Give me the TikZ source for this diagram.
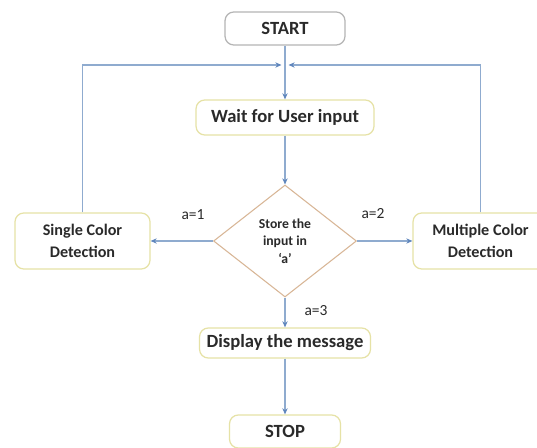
\documentclass[tikz,border=0pt]{standalone}
\usepackage{fontspec}
\setmainfont{Carlito}
\usetikzlibrary{shapes.geometric,arrows.meta}

\definecolor{flowline}{HTML}{8FABCF}
\definecolor{tipblue}{HTML}{5F86BD}
\definecolor{boxedge}{HTML}{E6E2A6}
\definecolor{startedge}{HTML}{B5B5B5}
\definecolor{diaedge}{HTML}{D8B696}
\definecolor{inktext}{HTML}{2A2A2A}

\tikzset{
    stepbox/.style={draw=boxedge, line width=0.7pt, rounded corners=5pt, fill=white,
        align=center, text=inktext, font=\bfseries\fontsize{10.6}{12}\selectfont, inner sep=0pt},
    sidebox/.style={stepbox, font=\bfseries\fontsize{9.2}{12.5}\selectfont},
    decide/.style={diamond, draw=diaedge, line width=0.6pt, align=center, inner sep=0pt,
        text=inktext, font=\bfseries\fontsize{7.8}{10}\selectfont},
    flow/.style={draw=flowline, line width=0.6pt,
        -{Stealth[length=3.5pt,width=3pt,color=tipblue]}},
    branch/.style={font=\fontsize{8.8}{10}\selectfont, text=inktext}
}

\begin{document}
\begin{tikzpicture}[x=0.02cm, y=-0.02cm]
    \clip (0,0) rectangle (537,448);
    \fill[white] (0,0) rectangle (537,448);

    % Main column
    \node[stepbox, draw=startedge, minimum width=2.4cm, minimum height=0.66cm] (start) at (285,28.5) {START};
    \node[stepbox, minimum width=3.56cm, minimum height=0.7cm] (wait) at (285,117.5) {Wait for User input};
    \node[decide, minimum width=2.86cm, minimum height=2.24cm, aspect=1.28] (store) at (285,241) {Store the\\input in\\‘a’};
    \node[stepbox, minimum width=3.42cm, minimum height=0.6cm] (show) at (285,343) {Display the message};
    \node[stepbox, minimum width=2.22cm, minimum height=0.66cm] (stop) at (285,431.5) {STOP};

    % Side branches
    \node[sidebox, minimum width=2.7cm, minimum height=1.12cm] (single) at (82.5,241) {Single Color\\Detection};
    \node[sidebox, minimum width=2.7cm, minimum height=1.12cm] (multi) at (480.5,241) {Multiple Color\\Detection};

    % Loop back point above the input box
    \coordinate (join) at (285,65);

    \draw[flow] (start) -- (wait);
    \draw[flow] (wait) -- (store);
    \draw[flow] (store.west) -- (single.east);
    \draw[flow] (store.east) -- (multi.west);
    \draw[flow] (store.south) -- (show.north);
    \draw[flow] (show) -- (stop);
    \draw[flow, shorten >=2pt] (single.north) |- (join);
    \draw[flow, shorten >=2pt] (multi.north) |- (join);

    % Branch conditions
    \node[branch] (c1) at (193,215) {a=1};
    \node[branch] (c2) at (373,214) {a=2};
    \node[branch] (c3) at (316,311) {a=3};
\end{tikzpicture}
\end{document}
